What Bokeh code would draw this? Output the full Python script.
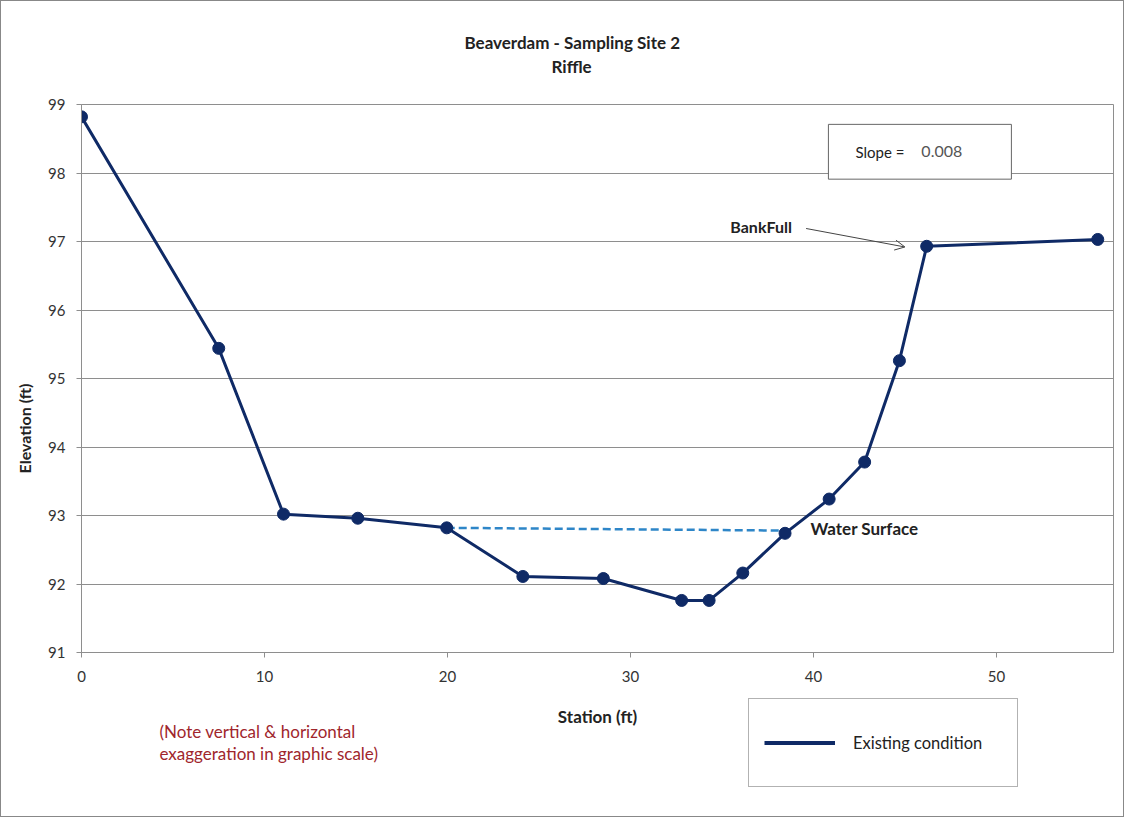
from bokeh.plotting import figure
from bokeh.layouts import column
from bokeh.models import (Label, Arrow, OpenHead, BoxAnnotation, Legend, LegendItem,
                          Range1d, FixedTicker, ColumnDataSource, Title)
from bokeh.embed import file_html
from bokeh.resources import INLINE

# ---- data ----
station = [0.0, 7.5, 11.04, 15.1, 19.96, 24.12, 28.52, 32.8, 34.3, 36.14, 38.45, 40.86, 42.8, 44.7, 46.19, 55.54]
elevation = [98.82, 95.44, 93.02, 92.96, 92.82, 92.11, 92.08, 91.76, 91.76, 92.16, 92.74, 93.24, 93.78, 95.26, 96.93, 97.03]
water_x = [19.96, 38.45]
water_y = [92.82, 92.78]
x_ticks = [0, 10, 20, 30, 40, 50]
y_ticks = [91, 92, 93, 94, 95, 96, 97, 98, 99]
title_lines = ["Beaverdam - Sampling Site 2", "Riffle"]
slope_label = "Slope ="
slope_value = "0.008"
series_name = "Existing condition"
note_lines = ["(Note vertical & horizontal", "exaggeration in graphic scale)"]

FONT = "Lato"
NAVY = "#0F2A66"
GRID = "#8e8e8e"
TXT = "#222222"

p = figure(width=1122, height=694, x_range=Range1d(0, 56.4), y_range=Range1d(91, 99),
           output_backend="svg", toolbar_location=None,
           min_border_left=80, min_border_right=10, min_border_top=103, min_border_bottom=43)
p.outline_line_color = GRID
p.outline_line_width = 1
p.background_fill_color = "white"
p.border_fill_color = "white"

p.xgrid.visible = False
p.ygrid.grid_line_color = GRID
p.ygrid.grid_line_width = 1

for ax in (p.xaxis[0], p.yaxis[0]):
    ax.axis_line_color = GRID
    ax.major_tick_line_color = GRID
    ax.major_tick_in = 0
    ax.major_tick_out = 5
    ax.minor_tick_line_color = None
    ax.major_label_text_font = FONT
    ax.major_label_text_font_size = "15px"
    ax.major_label_text_color = "#333333"

p.xaxis.ticker = FixedTicker(ticks=x_ticks)
p.yaxis.ticker = FixedTicker(ticks=y_ticks)
p.xaxis.major_label_standoff = 13
p.yaxis.major_label_standoff = 11

# titles (first added is nearest the frame)
p.add_layout(Title(text=title_lines[1], align="left", offset=470, standoff=56,
                   text_font=FONT, text_font_size="17px", text_font_style="bold",
                   text_color=TXT), "above")
p.add_layout(Title(text=title_lines[0], align="left", offset=383, standoff=-55,
                   text_font=FONT, text_font_size="17px", text_font_style="bold",
                   text_color=TXT), "above")

# y-axis title
p.add_layout(Title(text="Elevation (ft)", align="left", offset=179, standoff=23,
                   text_font=FONT, text_font_size="16px", text_font_style="bold",
                   text_color=TXT), "left")

# water surface (dashed)
p.line(water_x, water_y, line_color="#2E86C8", line_width=2.5, line_dash="8 4")

src = ColumnDataSource(dict(x=station, y=elevation))
p.line("x", "y", source=src, line_color=NAVY, line_width=3)
p.scatter("x", "y", source=src, size=12, fill_color=NAVY, line_color=NAVY)

# slope box
p.add_layout(BoxAnnotation(left=40.82, right=50.82, bottom=97.91, top=98.71,
                           fill_color="white", fill_alpha=1,
                           line_color="#666666", line_width=1, line_alpha=1))
p.add_layout(Label(x=42.3, y=98.31, text=slope_label, text_font=FONT, text_font_size="15px",
                   text_color=TXT, text_baseline="middle", text_align="left"))
p.add_layout(Label(x=45.9, y=98.31, text=slope_value, text_font=FONT, text_font_size="16px",
                   text_color="#555555", text_baseline="middle", text_align="left"))

# annotations
p.add_layout(Arrow(end=OpenHead(size=10, line_color="#444444", line_width=1),
                   x_start=39.6, y_start=97.19, x_end=45.0, y_end=96.92,
                   line_color="#444444", line_width=1))
p.add_layout(Label(x=35.46, y=97.22, text="BankFull", text_font=FONT, text_font_size="16px",
                   text_font_style="bold", text_color=TXT,
                   text_baseline="middle", text_align="left"))
p.add_layout(Label(x=39.84, y=92.81, text="Water Surface", text_font=FONT, text_font_size="17px",
                   text_font_style="bold", text_color=TXT,
                   text_baseline="middle", text_align="left"))

# ---- lower strip: x-axis title, note, legend ----
q = figure(width=1122, height=121, x_range=p.x_range, y_range=Range1d(0, 1),
           output_backend="svg", toolbar_location=None,
           x_axis_location=None, y_axis_location=None,
           min_border_left=80, min_border_right=10, min_border_top=0, min_border_bottom=0)
q.grid.visible = False
q.outline_line_color = None
q.background_fill_color = "white"
q.border_fill_color = "white"

# the series again (falls outside this strip's y-range; only its legend swatch shows)
leg_line = q.line(station, elevation, line_color=NAVY, line_width=4)
legend = Legend(items=[LegendItem(label=series_name, renderers=[leg_line])],
                location=(667, 29), orientation="vertical",
                padding=15, glyph_width=71, glyph_height=57, label_height=57,
                label_width=149, label_standoff=18, spacing=0, margin=0,
                border_line_color="#666666", border_line_width=1,
                background_fill_color="white", background_fill_alpha=1,
                label_text_font=FONT, label_text_font_size="16.5px",
                label_text_color=TXT)
q.add_layout(legend, "center")

q.add_layout(Label(x=516, y=100, x_units="screen", y_units="screen", text="Station (ft)",
                   text_font=FONT, text_font_size="17px", text_font_style="bold",
                   text_color=TXT, text_align="center", text_baseline="middle"))
for i, t in enumerate(note_lines):
    q.add_layout(Label(x=78, y=85 - 22 * i, x_units="screen", y_units="screen", text=t,
                       text_font=FONT, text_font_size="17px", text_color="#A0262C",
                       text_align="left", text_baseline="middle"))

layout = column(p, q, spacing=0, styles={"border": "1px solid #888888"})

open("out.html", "w").write(file_html(layout, INLINE))
